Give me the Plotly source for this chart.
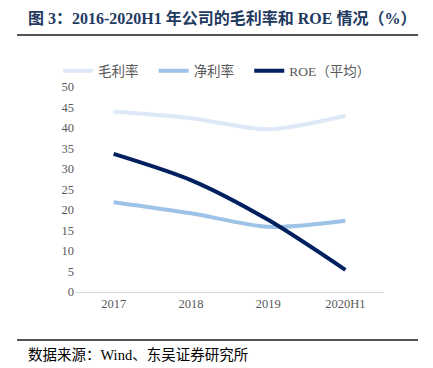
import plotly.graph_objects as go

categories = ["2017", "2018", "2019", "2020H1"]
gross_margin = [44.0, 42.4, 39.7, 43.0]
net_margin = [21.9, 19.2, 15.9, 17.4]
roe = [33.7, 27.3, 17.6, 5.4]
y_ticks = [0, 5, 10, 15, 20, 25, 30, 35, 40, 45, 50]
series_names = ["毛利率", "净利率", "ROE（平均）"]

serif = "Times New Roman, Liberation Serif, Noto Sans CJK SC"
NB = "\u00a0"

fig = go.Figure()
series = [
    (series_names[0] + NB * 3, gross_margin, "#dde9f6"),
    (series_names[1] + NB * 3, net_margin, "#9dc3e6"),
    (series_names[2], roe, "#002060"),
]
for name, vals, color in series:
    fig.add_trace(go.Scatter(
        x=categories, y=vals, name=name, mode="lines",
        line=dict(color=color, width=4, shape="spline", smoothing=0.8),
    ))

# page body has an 8px margin; work in reference pixel coordinates
OFF = 8
W, H = 433 - OFF, 368 - OFF
l, r, t, b = 75 - OFF, 49, 87 - OFF, 76
pw, ph = W - l - r, H - t - b

def px_x(x):
    return (x - OFF - l) / pw

def px_y(y):
    return (H - b - (y - OFF)) / ph

fig.update_layout(
    width=W, height=H,
    margin=dict(l=l, r=r, t=t, b=b),
    plot_bgcolor="white", paper_bgcolor="white",
    showlegend=True,
    legend=dict(
        orientation="h", x=px_x(58), y=px_y(71), xanchor="left", yanchor="middle",
        font=dict(family=serif, size=13.5, color="#595959"),
        itemwidth=30, tracegroupgap=0, bgcolor="rgba(0,0,0,0)",
    ),
    xaxis=dict(
        showgrid=False, showline=True, linecolor="#d9d9d9", linewidth=1,
        ticks="", tickfont=dict(family=serif, size=12.5, color="#595959"),
        range=[-0.5, 3.5], fixedrange=True,
    ),
    yaxis=dict(
        range=[0, 50], tickvals=y_ticks, showgrid=False, zeroline=False,
        showline=False, ticks="", ticklen=0,
        tickfont=dict(family=serif, size=12.5, color="#595959"),
    ),
    annotations=[
        dict(text="<b>图 3：2016-2020H1 年公司的毛利率和 ROE 情况（%）</b>",
             xref="paper", yref="paper", x=px_x(26), y=px_y(18),
             xanchor="left", yanchor="middle", showarrow=False,
             font=dict(family=serif, size=16, color="#1f3a5f")),
        dict(text="数据来源：Wind、东吴证券研究所",
             xref="paper", yref="paper", x=px_x(26), y=px_y(355),
             xanchor="left", yanchor="middle", showarrow=False,
             font=dict(family=serif, size=14.5, color="#000000")),
    ],
    shapes=[
        dict(type="line", xref="paper", yref="paper",
             x0=px_x(17), x1=px_x(418), y0=px_y(35), y1=px_y(35),
             line=dict(color="#1a1a1a", width=1.5)),
        dict(type="line", xref="paper", yref="paper",
             x0=px_x(17), x1=px_x(418), y0=px_y(340), y1=px_y(340),
             line=dict(color="#1a1a1a", width=1.5)),
    ],
)

fig.write_html("out.html")
